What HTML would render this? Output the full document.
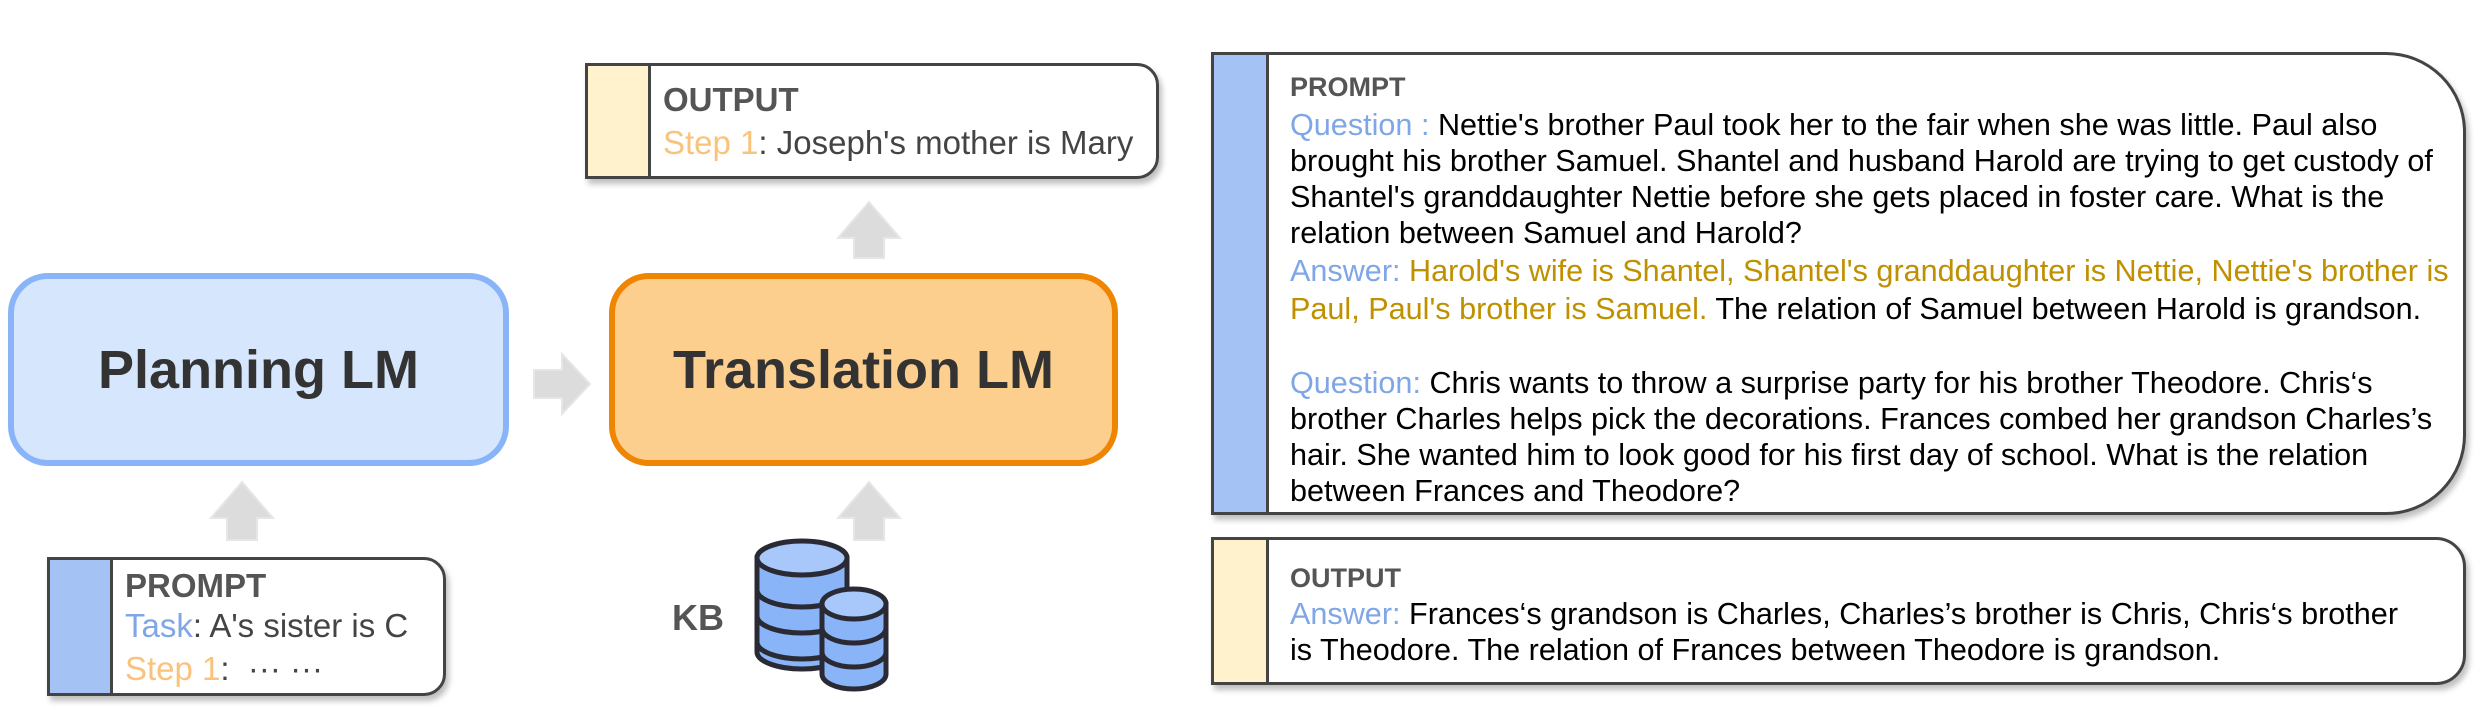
<!DOCTYPE html>
<html><head><meta charset="utf-8"><style>
body{margin:0;width:2479px;height:710px;background:#fff;position:relative;overflow:hidden;font-family:"Liberation Sans",Arial,sans-serif;}
.a{position:absolute;}
.box{position:absolute;box-sizing:border-box;border:3px solid #444;background:#fff;border-radius:0 22px 22px 0;overflow:hidden;box-shadow:3px 5px 6px rgba(0,0,0,0.25);}
.strip{position:absolute;left:0;top:0;bottom:0;border-right:3px solid #444;}
.t{position:absolute;white-space:nowrap;font-size:30.6px;line-height:36px;color:#000;}
.sm{font-size:33px;line-height:40px;}
.h{font-weight:bold;color:#555;}
.q{color:#7fa6e6;}
.g{color:#bf9000;}
.s{color:#f9c37b;}
</style></head><body>

<div class="box" style="left:585px;top:63px;width:574px;height:116px;">
  <div class="strip" style="width:60px;background:#fff2cc;"></div>
  <div class="t sm h" style="left:75px;top:14px;">OUTPUT</div>
  <div class="t sm" style="left:75px;top:57px;color:#444;"><span class="s">Step 1</span>: Joseph's mother is Mary</div>
</div>

<svg class="a" style="left:0;top:0" width="1200" height="710">
  <g fill="#dcdcdc" stroke="#e6e6e6" stroke-width="2">
    <polygon points="869,202 900,238 884,238 884,258 854,258 854,238 838,238"/>
    <polygon points="869,482 900,518 884,518 884,540 854,540 854,518 838,518"/>
    <polygon points="242,482 273,518 257,518 257,540 227,540 227,518 211,518"/>
    <polygon points="590,384 562,354 562,370 534,370 534,398 562,398 562,414"/>
  </g>
  <g stroke="#2a2a35" stroke-width="5" fill="#8ab4f8">
    <path d="M757,558 L757,652 A45,17 0 0 0 847,652 L847,558 Z"/>
    <ellipse cx="802" cy="558" rx="45" ry="17" fill="#a8c7fa"/>
    <path d="M757,590 A45,17 0 0 0 847,590 M757,616 A45,17 0 0 0 847,616 M757,642 A45,17 0 0 0 847,642" fill="none"/>
    <path d="M822,604 L822,674 A32,15 0 0 0 886,674 L886,604 Z"/>
    <ellipse cx="854" cy="604" rx="32" ry="15" fill="#a8c7fa"/>
    <path d="M822,628 A32,15 0 0 0 886,628 M822,652 A32,15 0 0 0 886,652" fill="none"/>
  </g>
</svg>

<div class="a" style="left:8px;top:273px;width:501px;height:193px;box-sizing:border-box;border:6px solid #8ab4f8;background:#d6e6fc;border-radius:40px;display:flex;align-items:center;justify-content:center;font-weight:bold;font-size:54px;color:#333;">Planning LM</div>
<div class="a" style="left:609px;top:273px;width:509px;height:193px;box-sizing:border-box;border:6px solid #ef8500;background:#fdcf8e;border-radius:40px;display:flex;align-items:center;justify-content:center;font-weight:bold;font-size:54px;color:#333;">Translation LM</div>

<div class="box" style="left:47px;top:557px;width:399px;height:139px;">
  <div class="strip" style="width:60px;background:#a4c2f4;"></div>
  <div class="t sm h" style="left:75px;top:6px;">PROMPT</div>
  <div class="t sm" style="left:75px;top:46px;color:#444;"><span class="q">Task</span>: A's sister is C</div>
  <div class="t sm" style="left:75px;top:89px;color:#444;"><span class="s">Step 1</span>:&nbsp; ··· ···</div>
</div>
<div class="t h" style="left:672px;top:600px;font-size:36px;color:#555;">KB</div>

<div class="box" style="left:1211px;top:52px;width:1255px;height:463px;border-radius:0 80px 80px 0;">
  <div class="strip" style="width:52px;background:#a4c2f4;"></div>
  <div class="t h" style="left:76px;top:14px;font-size:27px;">PROMPT</div>
  <div class="t" style="left:76px;top:52px;"><span class="q">Question :</span> Nettie's brother Paul took her to the fair when she was little. Paul also</div>
  <div class="t" style="left:76px;top:88px;">brought his brother Samuel. Shantel and husband Harold are trying to get custody of</div>
  <div class="t" style="left:76px;top:124px;">Shantel's granddaughter Nettie before she gets placed in foster care. What is the</div>
  <div class="t" style="left:76px;top:160px;">relation between Samuel and Harold?</div>
  <div class="t" style="left:76px;top:198px;"><span class="q">Answer:</span> <span class="g">Harold's wife is Shantel, Shantel's granddaughter is Nettie, Nettie's brother is</span></div>
  <div class="t" style="left:76px;top:236px;"><span class="g">Paul, Paul's brother is Samuel.</span> The relation of Samuel between Harold is grandson.</div>
  <div class="t" style="left:76px;top:310px;"><span class="q">Question:</span> Chris wants to throw a surprise party for his brother Theodore. Chris‘s</div>
  <div class="t" style="left:76px;top:346px;">brother Charles helps pick the decorations. Frances combed her grandson Charles’s</div>
  <div class="t" style="left:76px;top:382px;">hair. She wanted him to look good for his first day of school. What is the relation</div>
  <div class="t" style="left:76px;top:418px;">between Frances and Theodore?</div>
</div>

<div class="box" style="left:1211px;top:537px;width:1255px;height:148px;border-radius:0 30px 30px 0;">
  <div class="strip" style="width:52px;background:#fff2cc;"></div>
  <div class="t h" style="left:76px;top:20px;font-size:27px;">OUTPUT</div>
  <div class="t" style="left:76px;top:56px;"><span class="q">Answer:</span> Frances‘s grandson is Charles, Charles’s brother is Chris, Chris‘s brother</div>
  <div class="t" style="left:76px;top:92px;">is Theodore. The relation of Frances between Theodore is grandson.</div>
</div>
</body></html>
